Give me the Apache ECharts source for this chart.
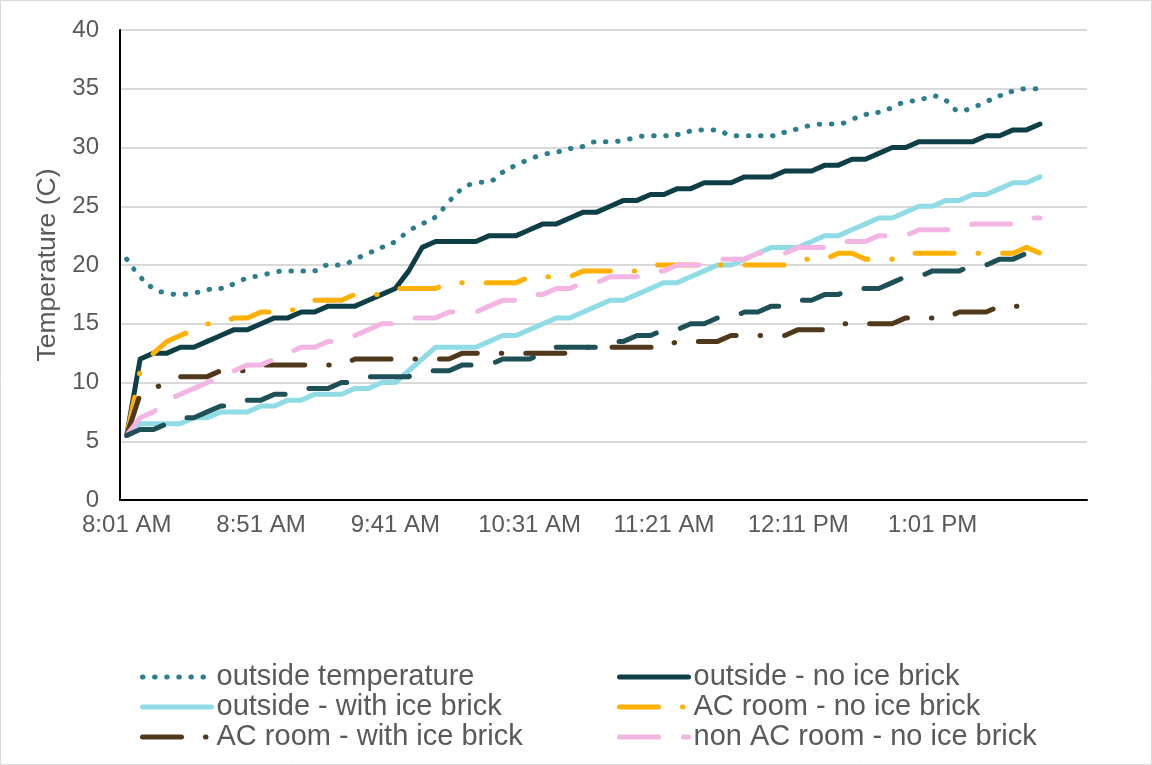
<!DOCTYPE html>
<html>
<head>
<meta charset="utf-8">
<title>Temperature (C)</title>
<script src="https://cdn.jsdelivr.net/npm/echarts@6/dist/echarts.min.js"></script>
<style>
  html, body { margin: 0; padding: 0; background: #ffffff; }
  #chart { width: 1152px; height: 765px; }
</style>
</head>
<body>
<div id="chart"></div>
<script>
// Readings every 5 minutes, 8:01 AM to 1:41 PM
const times = [
  '8:01 AM', '8:06 AM', '8:11 AM', '8:16 AM', '8:21 AM', '8:26 AM', '8:31 AM', '8:36 AM', '8:41 AM', '8:46 AM',
  '8:51 AM', '8:56 AM', '9:01 AM', '9:06 AM', '9:11 AM', '9:16 AM', '9:21 AM', '9:26 AM', '9:31 AM', '9:36 AM',
  '9:41 AM', '9:46 AM', '9:51 AM', '9:56 AM', '10:01 AM', '10:06 AM', '10:11 AM', '10:16 AM', '10:21 AM', '10:26 AM',
  '10:31 AM', '10:36 AM', '10:41 AM', '10:46 AM', '10:51 AM', '10:56 AM', '11:01 AM', '11:06 AM', '11:11 AM', '11:16 AM',
  '11:21 AM', '11:26 AM', '11:31 AM', '11:36 AM', '11:41 AM', '11:46 AM', '11:51 AM', '11:56 AM', '12:01 PM', '12:06 PM',
  '12:11 PM', '12:16 PM', '12:21 PM', '12:26 PM', '12:31 PM', '12:36 PM', '12:41 PM', '12:46 PM', '12:51 PM', '12:56 PM',
  '1:01 PM', '1:06 PM', '1:11 PM', '1:16 PM', '1:21 PM', '1:26 PM', '1:31 PM', '1:36 PM', '1:41 PM'
];
// the sheet range ends with three empty rows
const trailingBlankRows = ['', '', ''];

const outsideTemperature = [
  20.5, 19, 18, 17.6, 17.5, 17.6, 17.9, 18, 18.4, 18.9,
  19.1, 19.4, 19.5, 19.5, 19.5, 20, 20, 20.5, 21, 21.5,
  22, 22.9, 23.5, 24.1, 25.4, 26.5, 27, 27.1, 27.9, 28.5,
  29, 29.4, 29.6, 29.9, 30.1, 30.5, 30.5, 30.6, 30.9, 31,
  31, 31.1, 31.4, 31.5, 31.5, 31, 31, 31, 31, 31.3,
  31.6, 31.9, 32, 32, 32.4, 32.8, 33, 33.4, 33.9, 34,
  34.4, 34, 33.1, 33.4, 33.9, 34.4, 34.8, 35, 35
];
const outsideNoIce = [
  5.5, 12, 12.5, 12.5, 13, 13, 13.5, 14, 14.5, 14.5,
  15, 15.5, 15.5, 16, 16, 16.5, 16.5, 16.5, 17, 17.5,
  18, 19.5, 21.5, 22, 22, 22, 22, 22.5, 22.5, 22.5,
  23, 23.5, 23.5, 24, 24.5, 24.5, 25, 25.5, 25.5, 26,
  26, 26.5, 26.5, 27, 27, 27, 27.5, 27.5, 27.5, 28,
  28, 28, 28.5, 28.5, 29, 29, 29.5, 30, 30, 30.5,
  30.5, 30.5, 30.5, 30.5, 31, 31, 31.5, 31.5, 32
];
const outsideWithIce = [
  5.5, 6.5, 6.5, 6.5, 6.5, 7, 7, 7.5, 7.5, 7.5,
  8, 8, 8.5, 8.5, 9, 9, 9, 9.5, 9.5, 10,
  10, 11, 12, 13, 13, 13, 13, 13.5, 14, 14,
  14.5, 15, 15.5, 15.5, 16, 16.5, 17, 17, 17.5, 18,
  18.5, 18.5, 19, 19.5, 20, 20, 20.5, 21, 21.5, 21.5,
  21.5, 22, 22.5, 22.5, 23, 23.5, 24, 24, 24.5, 25,
  25, 25.5, 25.5, 26, 26, 26.5, 27, 27, 27.5
];
const acNoIce = [
  5.5, 11, 12.5, 13.5, 14, 14.5, 15, 15, 15.5, 15.5,
  16, 16, 16, 16.5, 17, 17, 17, 17.5, 17.5, 17.5,
  18, 18, 18, 18, 18.5, 18.5, 18.5, 18.5, 18.5, 18.5,
  19, 19, 19, 19, 19.5, 19.5, 19.5, 19.5, 19.5, 20,
  20, 20, 20, 20, 20, 20, 20, 20, 20, 20,
  20.5, 20.5, 20.5, 21, 21, 20.5, 20.5, 20.5, 21, 21,
  21, 21, 21, 21, 21, 21, 21, 21.5, 21
];
const acWithIce = [
  5.5, 9, 9.5, 10, 10.5, 10.5, 10.5, 11, 11, 11,
  11.5, 11.5, 11.5, 11.5, 11.5, 11.5, 11.5, 12, 12, 12,
  12, 12, 12, 12, 12, 12.5, 12.5, 12.5, 12.5, 12.5,
  12.5, 12.5, 12.5, 12.5, 13, 13, 13, 13, 13, 13,
  13, 13.5, 13.5, 13.5, 13.5, 14, 14, 14, 14, 14,
  14.5, 14.5, 14.5, 15, 15, 15, 15, 15, 15.5, 15.5,
  15.5, 15.5, 16, 16, 16, 16.5, 16.5, 16.5, 16.5
];
const nonAcNoIce = [
  5.5, 7, 7.5, 8.5, 9, 9.5, 10, 10.5, 11, 11.5,
  11.5, 12, 12.5, 13, 13, 13.5, 13.5, 14, 14.5, 15,
  15, 15.5, 15.5, 15.5, 16, 16, 16, 16.5, 17, 17,
  17.5, 17.5, 18, 18, 18.5, 18.5, 19, 19, 19, 19.5,
  19.5, 20, 20, 20, 20.5, 20.5, 20.5, 21, 21, 21,
  21.5, 21.5, 21.5, 22, 22, 22, 22.5, 22.5, 22.5, 23,
  23, 23, 23, 23.5, 23.5, 23.5, 23.5, 24, 24
];
const nonAcWithIce = [
  5.5, 6, 6, 6.5, 7, 7, 7.5, 8, 8, 8.5,
  8.5, 9, 9, 9.5, 9.5, 9.5, 10, 10, 10.5, 10.5,
  10.5, 10.5, 11, 11, 11, 11.5, 11.5, 11.5, 12, 12,
  12, 12.5, 13, 13, 13, 13, 13.5, 13.5, 14, 14,
  14.5, 14.5, 15, 15, 15.5, 15.5, 16, 16, 16.5, 16.5,
  17, 17, 17.5, 17.5, 18, 18, 18, 18.5, 19, 19,
  19.5, 19.5, 19.5, 20, 20, 20.5, 20.5, 21, 21
];

const yTicks = { min: 0, max: 40, step: 5 };

const FONT = '"Liberation Sans", Arial, Helvetica, sans-serif';
const TEXT = '#595959';
const LINE_W = 5;

const DOTTED = [0.5, 11.6];
const LONG_DASH_DOT = [39, 24, 0.5, 24];
const LONG_DASH = [39, 25];

function lineSeries(name, data, color, dash, extra) {
  return Object.assign({
    name: name,
    type: 'line',
    data: data,
    symbol: 'none',
    showSymbol: false,
    animation: false,
    lineStyle: { color: color, width: LINE_W, type: dash, cap: 'round', join: 'round' },
    itemStyle: { color: color },
    emphasis: { disabled: true }
  }, extra || {});
}

const legendBase = {
  orient: 'vertical',
  top: 662,
  padding: 0,
  itemWidth: 69,
  itemHeight: 24,
  itemGap: 0,
  selectedMode: false,
  itemStyle: { opacity: 0 },
  lineStyle: { width: LINE_W },
  textStyle: { fontFamily: FONT, fontSize: 29, color: TEXT, lineHeight: 30 }
};

const option = {
  backgroundColor: '#ffffff',
  animation: false,
  textStyle: { fontFamily: FONT },
  graphic: [{
    type: 'rect',
    silent: true,
    z: -10,
    shape: { x: 0.5, y: 0.5, width: 1151, height: 764 },
    style: { fill: 'none', stroke: '#D9D9D9', lineWidth: 1 }
  }],
  grid: { left: 120, right: 65, top: 30, bottom: 265, containLabel: false },
  legend: [
    Object.assign({}, legendBase, {
      left: 140,
      data: ['outside temperature', 'outside - with ice brick', 'AC room - with ice brick']
    }),
    Object.assign({}, legendBase, {
      left: 617,
      data: ['outside - no ice brick', 'AC room - no ice brick', 'non AC room - no ice brick']
    })
  ],
  xAxis: {
    type: 'category',
    data: times.concat(trailingBlankRows),
    boundaryGap: true,
    axisLine: { show: true, lineStyle: { color: '#000000', width: 2 } },
    axisTick: { show: false },
    splitLine: { show: false },
    axisLabel: { interval: 9, fontSize: 24, color: TEXT, fontFamily: FONT, margin: 13 }
  },
  yAxis: {
    type: 'value',
    min: yTicks.min,
    max: yTicks.max,
    interval: yTicks.step,
    name: 'Temperature (C)',
    nameLocation: 'middle',
    nameGap: 56,
    nameTextStyle: { fontSize: 26.5, color: TEXT, fontFamily: FONT },
    axisLine: { show: true, lineStyle: { color: '#000000', width: 2 } },
    axisTick: { show: false },
    axisLabel: { fontSize: 24, color: TEXT, fontFamily: FONT, margin: 21 },
    splitLine: { show: true, lineStyle: { color: '#D9D9D9', width: 2 } }
  },
  series: [
    lineSeries('outside temperature', outsideTemperature, '#2B7F8C', DOTTED, { smooth: 0.4 }),
    lineSeries('outside - no ice brick', outsideNoIce, '#0E3F47', 'solid'),
    lineSeries('outside - with ice brick', outsideWithIce, '#8FDCE6', 'solid'),
    lineSeries('AC room - no ice brick', acNoIce, '#FFB000', LONG_DASH_DOT),
    lineSeries('AC room - with ice brick', acWithIce, '#50381A', LONG_DASH_DOT),
    lineSeries('non AC room - no ice brick', nonAcNoIce, '#F3B6E4', LONG_DASH),
    lineSeries('non AC room - with ice brick', nonAcWithIce, '#1E5058', LONG_DASH)
  ]
};

const chart = echarts.init(document.getElementById('chart'), null, { renderer: 'canvas' });
chart.setOption(option);
</script>
</body>
</html>
